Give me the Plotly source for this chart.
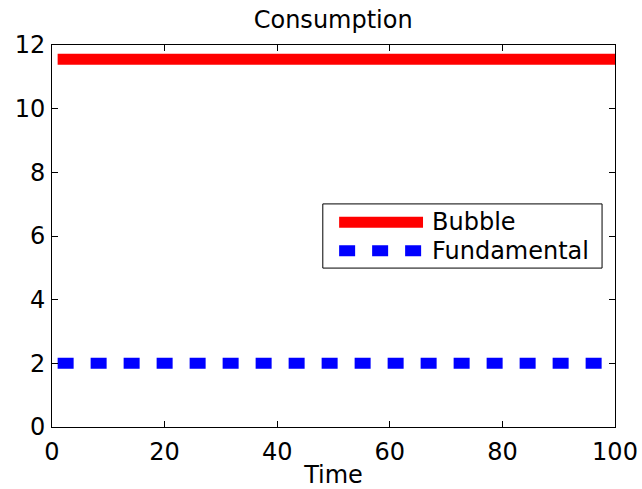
import plotly.graph_objects as go

# ---- data ----
time = list(range(1, 101))
bubble_level = 11.55
fundamental_level = 2.0
bubble = [bubble_level for _ in time]
fundamental = [fundamental_level for _ in time]
series_names = ["Bubble", "Fundamental"]
x_ticks = [0, 20, 40, 60, 80, 100]
y_ticks = [0, 2, 4, 6, 8, 10, 12]

FONT = "DejaVu Sans, Verdana, sans-serif"
FS = 24

fig = go.Figure()
fig.add_trace(go.Scatter(x=time, y=bubble, mode="lines", name=series_names[0],
                         line=dict(color="#ff0000", width=11), showlegend=False))
fig.add_trace(go.Scatter(x=time, y=fundamental, mode="lines", name=series_names[1],
                         line=dict(color="#0000ff", width=11, dash="16px,17px"), showlegend=False))

# manual legend (MATLAB style with long line samples)
fig.add_shape(type="rect", xref="paper", yref="paper", x0=0.481, x1=0.977, y0=0.416, y1=0.584,
              line=dict(color="black", width=1), fillcolor="white", layer="above")
fig.add_shape(type="line", xref="paper", yref="paper", x0=0.510, x1=0.659, y0=0.536, y1=0.536,
              line=dict(color="#ff0000", width=11), layer="above")
fig.add_shape(type="line", xref="paper", yref="paper", x0=0.510, x1=0.659, y0=0.4615, y1=0.4615,
              line=dict(color="#0000ff", width=11, dash="16px,17px"), layer="above")
for name, yy in zip(series_names, [0.536, 0.4615]):
    fig.add_annotation(text=name, xref="paper", yref="paper", x=0.672, y=yy,
                       xanchor="left", yanchor="middle", showarrow=False,
                       font=dict(family=FONT, size=FS, color="black"))

axis_common = dict(showline=True, linecolor="black", linewidth=1, mirror="ticks",
                   ticks="inside", ticklen=6, tickcolor="black", showgrid=False,
                   zeroline=False, automargin=False,
                   tickfont=dict(family=FONT, size=FS, color="black"))
fig.update_xaxes(range=[0, 100], tickvals=x_ticks, ticklabelstandoff=3,
                 title=dict(text="Time", font=dict(family=FONT, size=FS, color="black"), standoff=5),
                 **axis_common)
fig.update_yaxes(range=[0, 12], tickvals=y_ticks, ticklabelstandoff=1, **axis_common)

fig.update_layout(
    width=642, height=489,
    margin=dict(l=52, r=27, t=45, b=62, autoexpand=False),
    paper_bgcolor="white", plot_bgcolor="white",
    title=dict(text="Consumption", x=0.519, xanchor="center", y=1 - 20 / 489, yanchor="middle",
               yref="container", automargin=False,
               font=dict(family=FONT, size=FS, color="black")),
    font=dict(family=FONT, size=FS, color="black"),
    showlegend=False,
)

fig.write_html("out.html")
